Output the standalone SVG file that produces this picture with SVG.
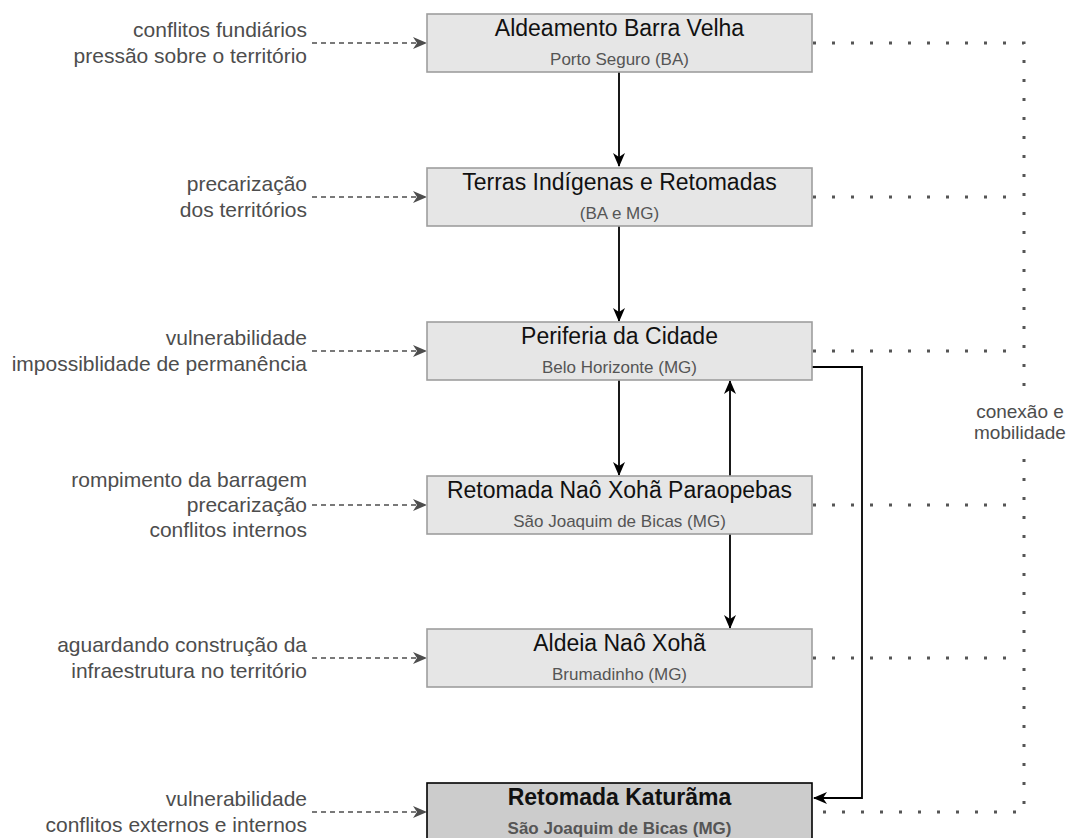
<svg xmlns="http://www.w3.org/2000/svg" width="1070" height="838" viewBox="0 0 1070 838">
<defs>
<marker id="ab" markerWidth="14" markerHeight="12" refX="13" refY="6" orient="auto" markerUnits="userSpaceOnUse">
<path d="M0,0 L14,6 L0,12 L4,6 Z" fill="#000"/>
</marker>
<marker id="ag" markerWidth="14" markerHeight="12" refX="13" refY="6" orient="auto" markerUnits="userSpaceOnUse">
<path d="M0,0 L14,6 L0,12 L4,6 Z" fill="#4d4d4d"/>
</marker>
<style>
.box{fill:#e6e6e6;stroke:#9e9e9e;stroke-width:1.6}
.boxk{fill:#cccccc;stroke:#000;stroke-width:1.6}
.t{font-family:"Liberation Sans",Arial,sans-serif;font-size:23px;fill:#111;text-anchor:middle}
.s{font-family:"Liberation Sans",Arial,sans-serif;font-size:17px;fill:#555;text-anchor:middle}
.l{font-family:"Liberation Sans",Arial,sans-serif;font-size:21px;fill:#4d4d4d;text-anchor:end}
.c{font-family:"Liberation Sans",Arial,sans-serif;font-size:19px;fill:#4d4d4d;text-anchor:middle}
.e{fill:none;stroke:#000;stroke-width:1.8}
.d{fill:none;stroke:#4d4d4d;stroke-width:1.5;stroke-dasharray:5 4}
.o{fill:none;stroke:#555;stroke-width:3;stroke-dasharray:3 16}
</style>
</defs>
<g id="connectors">
<path class="o" d="M813,43 H1024 V812 H813"/>
<path class="o" d="M813,197 H1013"/>
<path class="o" d="M813,351 H1013"/>
<path class="o" d="M813,505 H1013"/>
<path class="o" d="M813,658 H1013"/>
<path class="e" d="M619,72 V166" marker-end="url(#ab)"/>
<path class="e" d="M619,226 V321" marker-end="url(#ab)"/>
<path class="e" d="M619,380 V475" marker-end="url(#ab)"/>
<path class="e" d="M730,476 V381" marker-end="url(#ab)"/>
<path class="e" d="M730,534 V628" marker-end="url(#ab)"/>
<path class="e" d="M812,367 H862 V798 H814" marker-end="url(#ab)"/>
<path class="d" d="M312,43 H426" marker-end="url(#ag)"/>
<path class="d" d="M312,197 H426" marker-end="url(#ag)"/>
<path class="d" d="M312,351 H426" marker-end="url(#ag)"/>
<path class="d" d="M312,505 H426" marker-end="url(#ag)"/>
<path class="d" d="M312,658 H426" marker-end="url(#ag)"/>
<path class="d" d="M312,812 H426" marker-end="url(#ag)"/>
<rect x="972" y="399" width="96" height="46" fill="#fff"/>
<text class="c" x="1020" y="418">conexão e</text>
<text class="c" x="1020" y="439">mobilidade</text>
</g>
<g id="n1">
<rect class="box" x="427" y="14" width="385" height="58"/>
<text class="t" x="619.5" y="36">Aldeamento Barra Velha</text>
<text class="s" x="619.5" y="65">Porto Seguro (BA)</text>
</g>
<g id="n2">
<rect class="box" x="427" y="168" width="385" height="58"/>
<text class="t" x="619.5" y="190">Terras Indígenas e Retomadas</text>
<text class="s" x="619.5" y="219">(BA e MG)</text>
</g>
<g id="n3">
<rect class="box" x="427" y="322" width="385" height="58"/>
<text class="t" x="619.5" y="344">Periferia da Cidade</text>
<text class="s" x="619.5" y="373">Belo Horizonte (MG)</text>
</g>
<g id="n4">
<rect class="box" x="427" y="476" width="385" height="58"/>
<text class="t" x="619.5" y="498">Retomada Naô Xohã Paraopebas</text>
<text class="s" x="619.5" y="527">São Joaquim de Bicas (MG)</text>
</g>
<g id="n5">
<rect class="box" x="427" y="629" width="385" height="58"/>
<text class="t" x="619.5" y="651">Aldeia Naô Xohã</text>
<text class="s" x="619.5" y="680">Brumadinho (MG)</text>
</g>
<g id="n6">
<rect class="boxk" x="427" y="783" width="385" height="60"/>
<text class="t" x="619.5" y="805" font-weight="bold">Retomada Katurãma</text>
<text class="s" x="619.5" y="834" font-weight="bold" fill="#444">São Joaquim de Bicas (MG)</text>
</g>
<g id="labels">
<text class="l" x="307" y="37">conflitos fundiários</text>
<text class="l" x="307" y="63">pressão sobre o território</text>
<text class="l" x="307" y="191">precarização</text>
<text class="l" x="307" y="217">dos territórios</text>
<text class="l" x="307" y="345">vulnerabilidade</text>
<text class="l" x="307" y="371">impossiblidade de permanência</text>
<text class="l" x="307" y="487">rompimento da barragem</text>
<text class="l" x="307" y="512">precarização</text>
<text class="l" x="307" y="537">conflitos internos</text>
<text class="l" x="307" y="652">aguardando construção da</text>
<text class="l" x="307" y="678">infraestrutura no território</text>
<text class="l" x="307" y="806">vulnerabilidade</text>
<text class="l" x="307" y="832">conflitos externos e internos</text>
</g>
</svg>
